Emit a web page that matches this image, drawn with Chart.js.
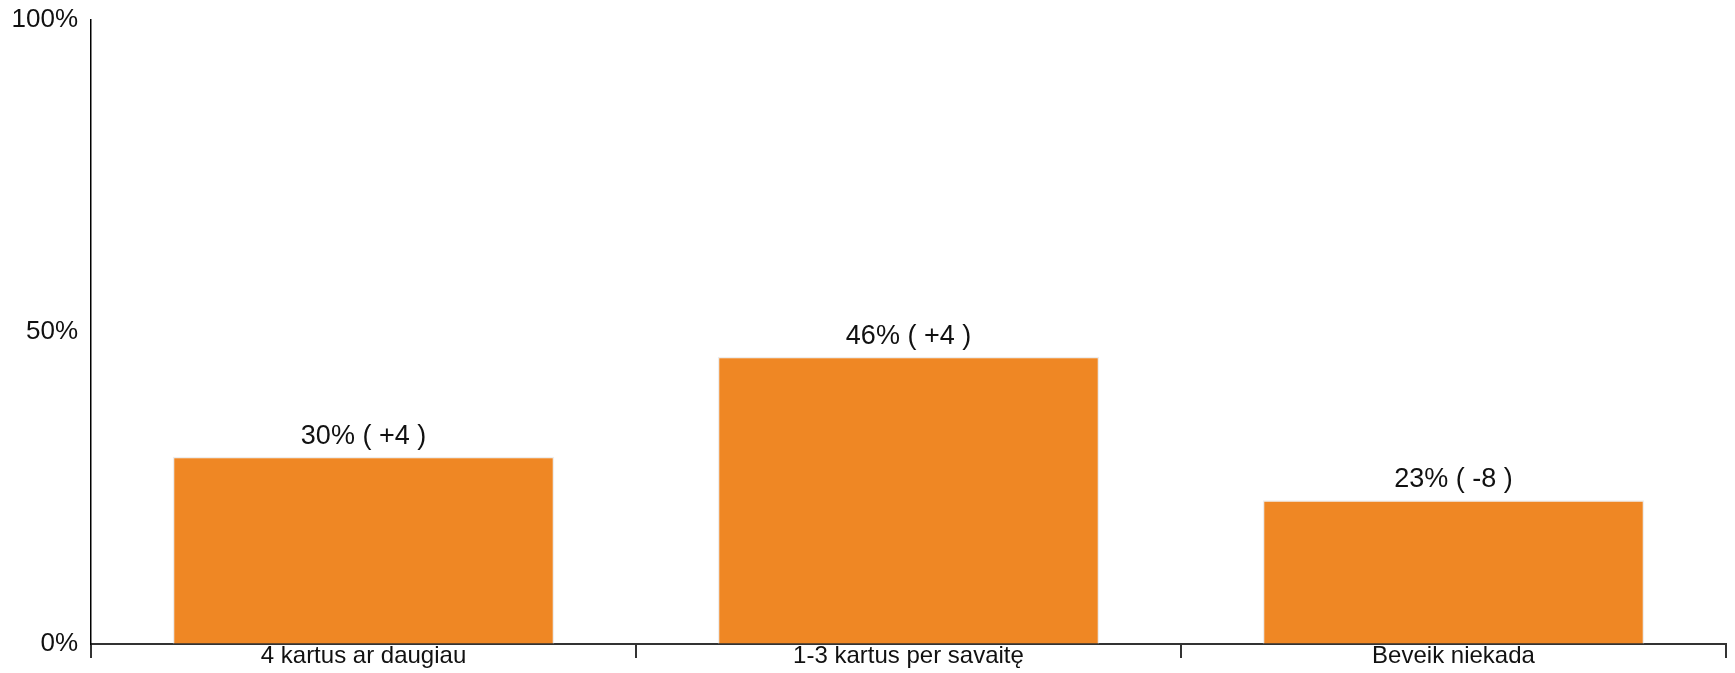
<!DOCTYPE html>
<html lang="lt">

<head>
    <meta charset="UTF-8">
    <title>chart</title>
    <script src="https://cdn.jsdelivr.net/npm/chart.js"></script>
    <style>
        body { margin: 0; background: #fff; }
    </style>
</head>

<body>
    <canvas id="canvas" width="1735" height="673"></canvas>
    <script type="text/javascript">
        // data
        const categories = ["4 kartus ar daugiau", "1-3 kartus per savaitę", "Beveik niekada"];
        const values = [30, 46, 23];
        const valueLabels = ["30% ( +4 )", "46% ( +4 )", "23% ( -8 )"];
        const yTicks = [0, 50, 100];

        const font = "'Liberation Sans', Arial, sans-serif";

        // labels over the bars
        const barLabels = {
            id: 'barLabels',
            afterDatasetsDraw(chart) {
                const ctx = chart.ctx;
                const meta = chart.getDatasetMeta(0);
                ctx.save();
                ctx.font = "27px " + font;
                ctx.fillStyle = "#111";
                ctx.textAlign = "center";
                ctx.textBaseline = "alphabetic";
                meta.data.forEach((bar, i) => {
                    ctx.fillText(valueLabels[i], bar.x, bar.y - 13);
                });
                ctx.restore();
            }
        };

        const config = {
            type: 'bar',
            data: {
                labels: categories,
                datasets: [{
                    data: values,
                    backgroundColor: '#EF8724',
                    borderColor: '#EDEDED',
                    borderWidth: 1.5,
                    borderSkipped: 'bottom',
                    categoryPercentage: 0.7,
                    barPercentage: 1
                }]
            },
            options: {
                responsive: false,
                animation: false,
                layout: {
                    padding: { top: 17, right: 9, left: 0, bottom: 0 }
                },
                plugins: {
                    legend: { display: false },
                    tooltip: { enabled: false }
                },
                scales: {
                    x: {
                        afterFit(axis) { axis.height = 29; },
                        grid: {
                            offset: true,
                            drawOnChartArea: false,
                            drawTicks: true,
                            tickLength: 14,
                            color: '#333',
                            lineWidth: 2
                        },
                        border: { display: true, color: '#333', width: 2 },
                        ticks: {
                            padding: -16,
                            color: '#111',
                            font: { family: font, size: 24 }
                        }
                    },
                    y: {
                        min: 0,
                        max: 100,
                        afterFit(axis) { axis.width = 91; },
                        afterBuildTicks(axis) {
                            axis.ticks = yTicks.map(v => ({ value: v }));
                        },
                        grid: { drawOnChartArea: false, drawTicks: false },
                        border: { display: true, color: '#000', width: 1.5 },
                        ticks: {
                            padding: 13,
                            color: '#111',
                            font: { family: font, size: 26, lineHeight: 0.5 },
                            callback: v => v + '%'
                        }
                    }
                }
            },
            plugins: [barLabels]
        };

        const ctx = document.getElementById("canvas").getContext("2d");
        const myChart = new Chart(ctx, config);
    </script>
</body>

</html>
